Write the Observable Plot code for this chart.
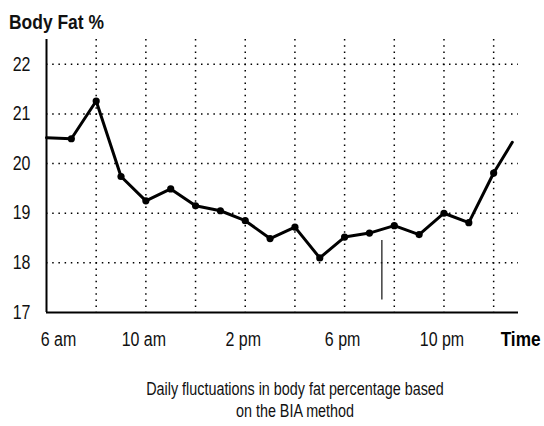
<!DOCTYPE html>
<html><head><meta charset="utf-8">
<script src="https://cdn.jsdelivr.net/npm/d3@7"></script>
<script src="https://cdn.jsdelivr.net/npm/@observablehq/plot@0.6"></script>
<style>
body{margin:0;background:#fff;}
#wrap{position:relative;width:544px;height:426px;font-family:"Liberation Sans Narrow","Arial Narrow","Liberation Sans",sans-serif;color:#111;overflow:hidden;}
#title{position:absolute;left:9px;top:11px;font-weight:bold;font-size:21px;line-height:21px;white-space:nowrap;transform:scaleX(0.83);transform-origin:0 0;}
#chart{position:absolute;left:0;top:36px;}
#caption{position:absolute;left:23px;width:544px;top:378px;text-align:center;font-size:17.5px;line-height:22px;transform:scaleX(0.82);transform-origin:272px 0;}
</style></head><body>
<div id="wrap">
<div id="title">Body Fat %</div>
<div id="chart"></div>
<div id="caption">Daily fluctuations in body fat percentage based<br>on the BIA method</div>
</div>
<script>
// data
const hours = [6, 7, 8, 9, 10, 11, 12, 13, 14, 15, 16, 17, 18, 19, 20, 21, 22, 23, 24, 24.75];
const bodyFat = [20.52, 20.5, 21.26, 19.74, 19.25, 19.49, 19.15, 19.05, 18.85, 18.49, 18.72, 18.1, 18.52, 18.6, 18.75, 18.57, 19.0, 18.81, 19.81, 20.43];
const dotHours = [7, 8, 9, 10, 11, 12, 13, 14, 15, 16, 17, 18, 19, 20, 21, 22, 23, 24];
const yTicks = [17, 18, 19, 20, 21, 22];
const yGrid = [18, 19, 20, 21, 22];
const xGrid = [8, 10, 12, 14, 16, 18, 20, 22, 24];
const xTickHours = [6, 10, 14, 18, 22];
const xTickLabels = ["6 am", "10 am", "2 pm", "6 pm", "10 pm"];
const markerHour = [19.5];
const markerLow = 17.25;
const markerHigh = 18.45;

const series = hours.map((h, i) => ({h, v: bodyFat[i]}));
const dots = series.filter(d => dotHours.includes(d.h));
const labelOf = new Map(xTickHours.map((h, i) => [h, xTickLabels[i]]));
const font = '"Liberation Sans Narrow","Arial Narrow","Liberation Sans",sans-serif';
const dotted = {stroke: "#000", strokeWidth: 1.5, strokeOpacity: 1, strokeDasharray: "1.5 4.7"};

const chart = Plot.plot({
  width: 544,
  height: 324,
  marginTop: 3,
  marginBottom: 48,
  marginLeft: 46,
  marginRight: 26,
  style: {fontFamily: font, background: "#fff", color: "#111", overflow: "visible"},
  x: {domain: [6, 25]},
  y: {domain: [17, 22.5]},
  marks: [
    Plot.gridY(yGrid, dotted),
    Plot.gridX(xGrid, dotted),
    Plot.ruleX([6], {stroke: "#000", strokeWidth: 2}),
    Plot.ruleY([17], {stroke: "#000", strokeWidth: 2}),
    Plot.ruleX(markerHour, {y1: markerLow, y2: markerHigh, stroke: "#222", strokeWidth: 1.3}),
    Plot.line(series, {x: "h", y: "v", stroke: "#000", strokeWidth: 3, strokeLinejoin: "round"}),
    Plot.dot(dots, {x: "h", y: "v", r: 3.6, fill: "#000", stroke: "none"}),
    Plot.axisY(yTicks, {tickSize: 0, tickPadding: 16, fontSize: 19.5, label: null, tickFormat: d => String(d), fill: "#111"}),
    Plot.axisX(xTickHours.slice(0, 1), {tickSize: 0, tickPadding: 20, fontSize: 19.5, label: null, dx: 12, tickFormat: h => labelOf.get(h), fill: "#111"}),
    Plot.axisX(xTickHours.slice(1), {tickSize: 0, tickPadding: 20, fontSize: 19.5, label: null, dx: -2, tickFormat: h => labelOf.get(h), fill: "#111"}),
    Plot.text(["Time"], {frameAnchor: "bottom-right", textAnchor: "end", lineAnchor: "top", dx: 22, dy: 19, fontSize: 21, fontWeight: "bold", fill: "#000"})
  ]
});
// condense text horizontally around its anchor (narrow typeface look)
const NS = "http://www.w3.org/2000/svg";
Array.from(chart.querySelectorAll("text")).forEach(t => {
  const g = document.createElementNS(NS, "g");
  let tr = t.getAttribute("transform") || "";
  const x = t.getAttribute("x");
  if (x != null && !/em/.test(x)) {
    tr += ` translate(${parseFloat(x) || 0},0)`;
    t.removeAttribute("x");
  }
  if (tr.trim()) g.setAttribute("transform", tr.trim());
  t.parentNode.insertBefore(g, t);
  g.appendChild(t);
  t.setAttribute("transform", "scale(0.82,1)");
});
document.getElementById("chart").appendChild(chart);
</script>
</body></html>
